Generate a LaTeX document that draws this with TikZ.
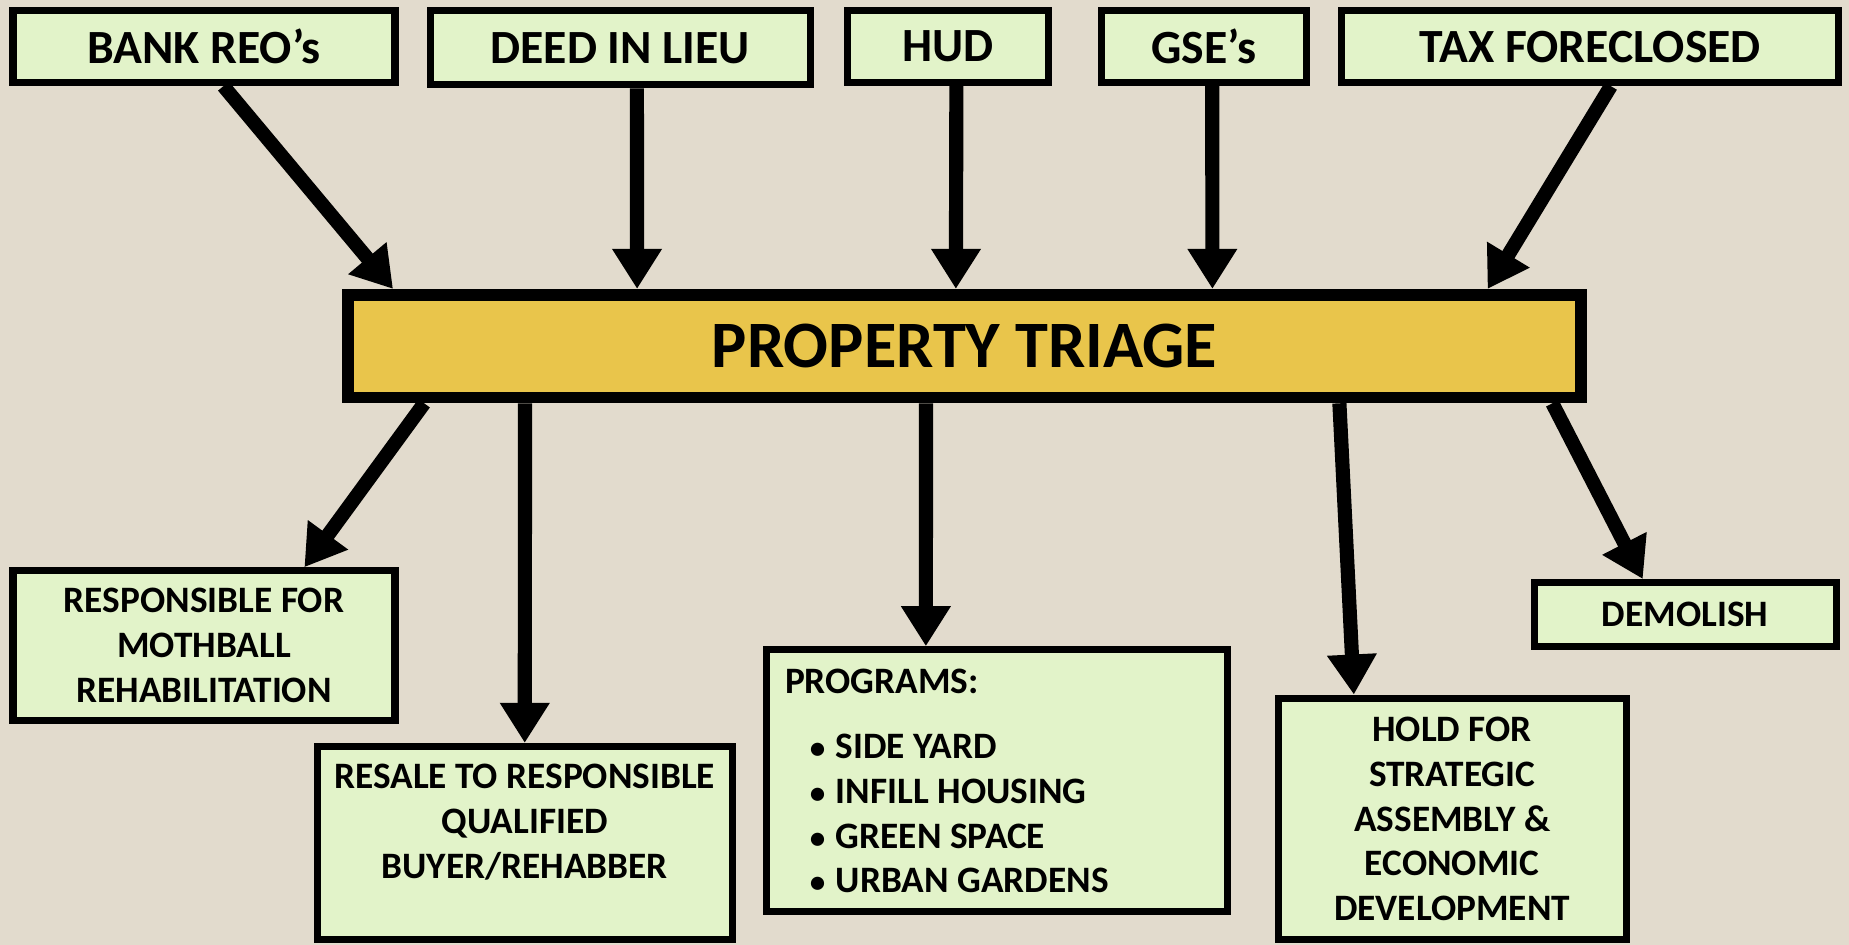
\documentclass[tikz,border=0pt]{standalone}
\usepackage{fontspec}
\setmainfont{Carlito}
\usetikzlibrary{arrows.meta,calc}
\definecolor{paper}{RGB}{226,219,205}
\definecolor{boxgreen}{RGB}{226,243,201}
\definecolor{gold}{RGB}{233,197,75}
\begin{document}
\begin{tikzpicture}[x=0.1mm,y=-0.1mm,
  tbox/.style={draw=black, line width=0.6mm, fill=boxgreen, inner sep=0pt,
    font=\fontsize{11.5}{13}\selectfont\bfseries},
  bbox/.style={draw=black, line width=0.6mm, fill=boxgreen, inner sep=0pt, align=center,
    font=\fontsize{9}{10.8}\selectfont\bfseries},
  btxt/.style={inner sep=0pt, align=center, font=\fontsize{9}{10.8}\selectfont\bfseries},
  ptxt/.style={inner sep=0pt, anchor=west, font=\fontsize{9}{10.8}\selectfont\bfseries},
  arr/.style={line width=1.2mm, -{Triangle[length=3.4mm,width=4mm]}},
]
\fill[paper] (0,0) rectangle (1568,801);
\useasboundingbox (0,0) rectangle (1568,801);

% top boxes
\node[tbox, minimum width=32.4mm, minimum height=6.1mm] (bank) at (173,39.5) {BANK REO’s};
\node[tbox, minimum width=32.2mm, minimum height=6.3mm] (deed) at (526,40.5) {DEED IN LIEU};
\node[tbox, minimum width=17.0mm, minimum height=6.1mm] (hud) at (804,39.5) {HUD};
\node[tbox, minimum width=17.4mm, minimum height=6.1mm] (gse) at (1021,39.5) {GSE’s};
\node[tbox, minimum width=42.1mm, minimum height=6.1mm] (tax) at (1348.5,39.5) {TAX FORECLOSED};

% central bar
\node[draw=black, line width=1mm, fill=gold, inner sep=0pt,
  minimum width=104.6mm, minimum height=8.7mm,
  font=\fontsize{16}{20}\selectfont\bfseries] (trg) at (818,293.5) {PROPERTY TRIAGE};

% bottom boxes
\node[bbox, minimum width=32.4mm, minimum height=12.7mm] (moth) at (173,547.5)
  {RESPONSIBLE FOR\\MOTHBALL\\REHABILITATION};
\node[bbox, minimum width=35.2mm, minimum height=16.4mm] (resale) at (445,715) {};
\node[btxt] (resaletxt) at (445,697) {RESALE TO RESPONSIBLE\\QUALIFIED\\BUYER/REHABBER};
\node[bbox, minimum width=39.1mm, minimum height=22.2mm] (prog) at (845.5,662) {};
\node[ptxt] (p0) at (665,578) {PROGRAMS:};
\node[ptxt] (p1) at (686,633) {{\fontsize{7.5}{9}\selectfont\textbullet}\hspace{0.9mm}SIDE YARD};
\node[ptxt] (p2) at (686,671) {{\fontsize{7.5}{9}\selectfont\textbullet}\hspace{0.9mm}INFILL HOUSING};
\node[ptxt] (p3) at (686,709) {{\fontsize{7.5}{9}\selectfont\textbullet}\hspace{0.9mm}GREEN SPACE};
\node[ptxt] (p4) at (686,747) {{\fontsize{7.5}{9}\selectfont\textbullet}\hspace{0.9mm}URBAN GARDENS};
\node[bbox, minimum width=29.5mm, minimum height=20.5mm] (hold) at (1231.5,694.5)
  {HOLD FOR\\STRATEGIC\\ASSEMBLY \&\\ECONOMIC\\DEVELOPMENT};
\node[bbox, minimum width=25.6mm, minimum height=5.4mm] (demo) at (1429,521) {DEMOLISH};

% incoming arrows
\draw[arr] ($(bank.south west)!0.55!(bank.south east)$) -- ($(trg.north west)!0.041!(trg.north east)$);
\draw[arr] ($(deed.south west)!0.543!(deed.south east)$) -- ($(trg.north west)!0.237!(trg.north east)$);
\draw[arr] ($(hud.south west)!0.54!(hud.south east)$) -- ($(trg.north west)!0.493!(trg.north east)$);
\draw[arr] ($(gse.south west)!0.539!(gse.south east)$) -- ($(trg.north west)!0.699!(trg.north east)$);
\draw[arr] ($(tax.south west)!0.541!(tax.south east)$) -- ($(trg.north west)!0.92!(trg.north east)$);

% outgoing arrows
\draw[arr] ($(trg.south west)!0.066!(trg.south east)$) -- ($(moth.north west)!0.758!(moth.north east)$);
\draw[arr] ($(trg.south west)!0.147!(trg.south east)$) -- ($(resale.north west)!0.5!(resale.north east)$);
\draw[arr] ($(trg.south west)!0.469!(trg.south east)$) -- ($(prog.north west)!0.348!(prog.north east)$);
\draw[arr] ($(trg.south west)!0.801!(trg.south east)$) -- ($(hold.north west)!0.223!(hold.north east)$);
\draw[arr] ($(trg.south west)!0.972!(trg.south east)$) -- ($(demo.north west)!0.363!(demo.north east)$);
\end{tikzpicture}
\end{document}
